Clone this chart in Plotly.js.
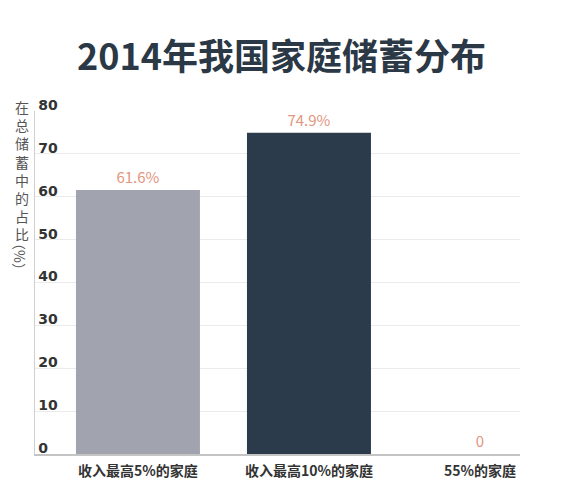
<!DOCTYPE html>
<html><head><meta charset="utf-8">
<script src="https://cdn.plot.ly/plotly-3.0.1.min.js"></script>
<style>html,body{margin:0;padding:0;background:#fff}#chart{width:571px;height:484px}</style>
</head><body><div id="chart"></div>
<script>
var categories = ['收入最高5%的家庭', '收入最高10%的家庭', '55%的家庭'];
var shares = [61.6, 74.9, 0];
var barColors = ['#a1a4ae', '#2c3b4c', '#a1a4ae'];
var yTicks = [0, 10, 20, 30, 40, 50, 60, 70, 80];
var titleText = '2014年我国家庭储蓄分布';
var yTitleChars = ['在', '总', '储', '蓄', '中', '的', '占', '比'];
var yTitleUnit = '（%）';

var labels = shares.map(function (v) { return v > 0 ? v.toFixed(1) + '%' : '0'; });
var fam = '"Noto Sans CJK SC", "Noto Sans", sans-serif';

var trace = {
  type: 'bar', x: categories, y: shares, width: 0.725,
  marker: {color: barColors},
  text: labels, textposition: 'outside', cliponaxis: false,
  textfont: {color: '#e3957e', size: 15, family: fam},
  hoverinfo: 'skip'
};

var layout = {
  width: 571, height: 484,
  margin: {l: 35, r: 51, t: 111, b: 30},
  paper_bgcolor: '#fff', plot_bgcolor: '#fff',
  font: {family: fam},
  showlegend: false,
  title: {text: titleText, x: 0.493, xanchor: 'center', y: 1 - 57/484, yanchor: 'middle', yref: 'container',
          font: {size: 36, color: '#2b3845', family: fam, weight: 'bold'}},
  xaxis: {type: 'category', range: [-0.602, 2.234], showgrid: false,
          showline: true, linecolor: '#c4c4c4', linewidth: 1.5,
          ticks: '', ticklabelstandoff: 4,
          tickfont: {size: 14, color: '#333', family: fam, weight: 'bold'}},
  yaxis: {range: [0, 80], tickvals: yTicks, showgrid: true, gridcolor: '#ebebeb', gridwidth: 1,
          zeroline: false, showline: true, linecolor: '#d0d0d0', linewidth: 1.5,
          ticks: '', ticklabelposition: 'inside', ticklabelshift: -6, ticklabelstandoff: 3,
          ticklabeloverflow: 'allow',
          tickfont: {size: 14, color: '#333', family: '"DejaVu Sans", sans-serif', weight: 'bold'}},
  annotations: [
    {text: yTitleChars.join('<br>'), xref: 'paper', yref: 'paper', x: -35/485, y: 1 + 16/343,
     xanchor: 'left', yanchor: 'top', showarrow: false, align: 'center',
     font: {size: 14, color: '#555', family: fam}, xshift: 13},
    {text: yTitleUnit, xref: 'paper', yref: 'paper', x: -35/485, y: (454-256)/343,
     xanchor: 'center', yanchor: 'middle', showarrow: false, textangle: 90,
     font: {size: 14, color: '#555', family: fam}, xshift: 20}
  ]
};

Plotly.newPlot('chart', [trace], layout, {displayModeBar: false, staticPlot: true});
</script></body></html>
